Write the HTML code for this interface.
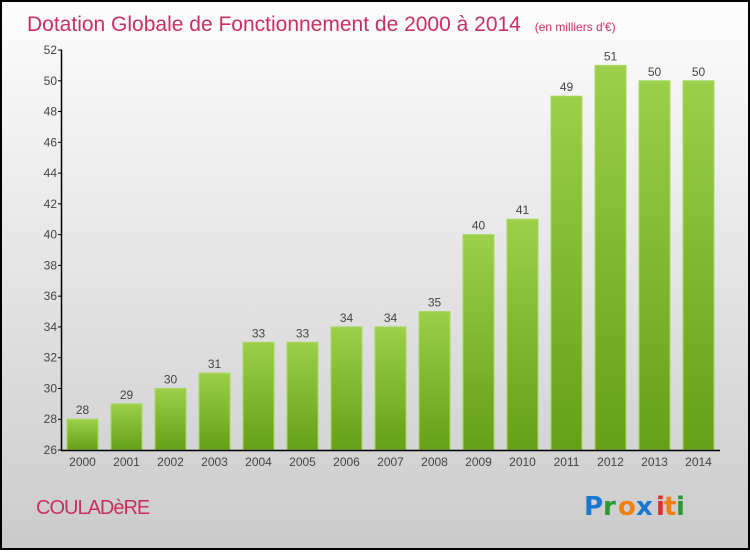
<!DOCTYPE html>
<html><head><meta charset="utf-8"><style>
body{margin:0;width:750px;height:550px;overflow:hidden;font-family:"Liberation Sans",sans-serif}
</style></head><body>
<svg width="750" height="550" xmlns="http://www.w3.org/2000/svg">
<defs>
<linearGradient id="bg" x1="0" y1="0" x2="0" y2="1"><stop offset="0" stop-color="#fdfdfd"/><stop offset="1" stop-color="#cbcbcb"/></linearGradient>
<linearGradient id="bar" x1="0" y1="0" x2="0" y2="1"><stop offset="0" stop-color="#9ccf4a"/><stop offset="1" stop-color="#65a017"/></linearGradient>
</defs>
<rect x="1" y="1" width="748" height="548" fill="url(#bg)" stroke="#000" stroke-width="2"/>
<text x="27" y="31" font-size="21" fill="#c8305f">Dotation Globale de Fonctionnement de 2000 à 2014 <tspan font-size="12" dx="8">(en milliers d'€)</tspan></text>
<g id="plot"></g>
<text x="36" y="514" font-size="20" fill="#c8305f" letter-spacing="-1">COULADèRE</text>
<g font-size="26" font-weight="bold" font-family="DejaVu Sans, sans-serif">
<text x="584" y="515" fill="#1a78d0">P</text><text x="603" y="515" fill="#2a9a30">r</text><text x="618" y="515" fill="#f08010">o</text><text x="636" y="515" fill="#1a78d0">x</text><text x="656" y="515" fill="#e03030">i</text><text x="664" y="515" fill="#f08010">t</text><text x="676" y="515" fill="#2a9a30">i</text>
</g>
</svg>
<script>
const years=["2000","2001","2002","2003","2004","2005","2006","2007","2008","2009","2010","2011","2012","2013","2014"];
const values=[28,29,30,31,33,33,34,34,35,40,41,49,51,50,50];
const yTicks=[26,28,30,32,34,36,38,40,42,44,46,48,50,52];
const NS="http://www.w3.org/2000/svg";
const g=document.getElementById('plot');
const y0=450,yMin=26,yMax=52,yTop=50;
const Y=v=>y0-(v-yMin)/(yMax-yMin)*(y0-yTop);
const X=i=>82.5+i*44;
function mk(t,a,p){const e=document.createElementNS(NS,t);for(const k in a)e.setAttribute(k,a[k]);(p||g).appendChild(e);return e;}
values.forEach((v,i)=>{
 const r=mk('rect',{x:X(i)-15.5,y:Y(v),width:31,height:y0-Y(v),fill:'url(#bar)',stroke:'#a8d860','stroke-width':1});
 
 
 const t=mk('text',{x:X(i),y:Y(v)-5,'text-anchor':'middle','font-size':12,fill:'#444'});
 t.textContent=v;
 
 
 const xl=mk('text',{x:X(i),y:466,'text-anchor':'middle','font-size':12,fill:'#444'});
 xl.textContent=years[i];
 
 
});
yTicks.forEach(v=>{
 const l=mk('line',{x1:58,x2:62,y1:Y(v),y2:Y(v),stroke:'#000'});
 
 
 const t=mk('text',{x:57,y:Y(v)+4,'text-anchor':'end','font-size':12,fill:'#444'});
 t.textContent=v;
 
 
});
const ya=mk('line',{x1:61.5,x2:61.5,y1:yTop,y2:y0+1,stroke:'#000','stroke-width':1.5});


const xa=mk('line',{x1:61,x2:720,y1:y0+0.5,y2:y0+0.5,stroke:'#000','stroke-width':1.5});


</script>
</body></html>
